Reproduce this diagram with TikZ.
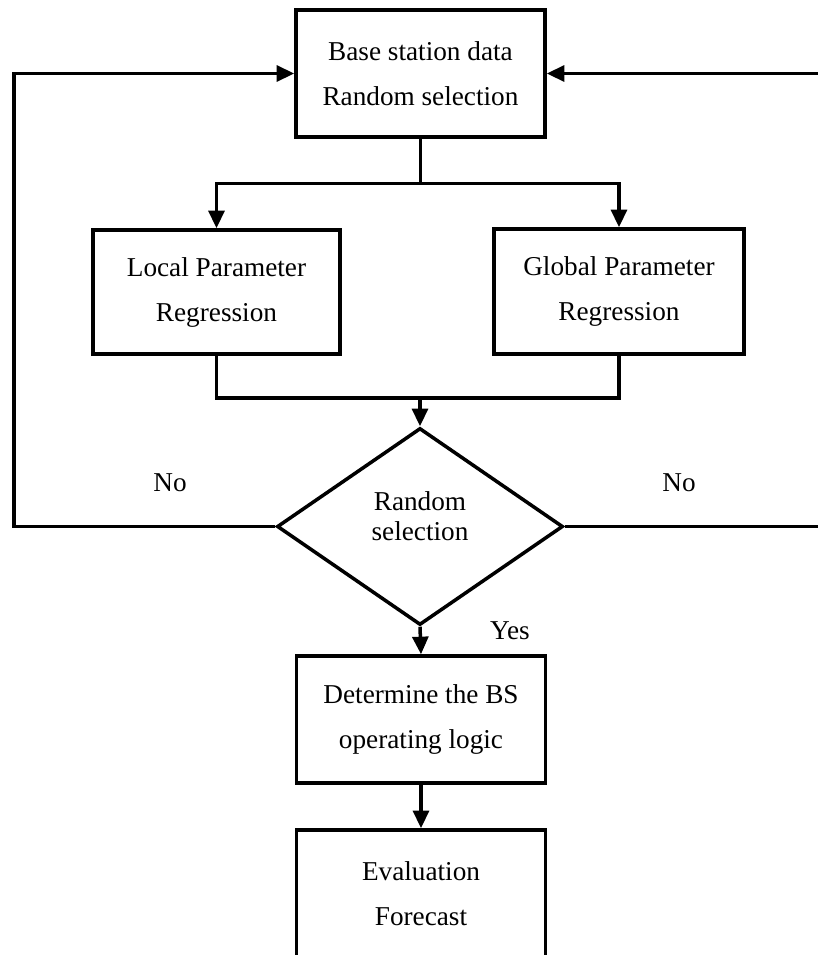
\documentclass[tikz,border=0pt]{standalone}
\usepackage{fontspec}
\setmainfont{Liberation Serif}
\usetikzlibrary{arrows.meta,shapes.geometric,positioning}

\begin{document}
\begin{tikzpicture}[
    block/.style={draw, line width=2pt, minimum width=4.98cm, minimum height=2.54cm, align=center, font=\fontsize{15.5}{25.6}\selectfont},
    decision/.style={draw, diamond, line width=2pt, minimum width=5.72cm, minimum height=3.94cm, inner sep=0pt, align=center, font=\fontsize{15.5}{17.6}\selectfont},
    lbl/.style={font=\fontsize{15.5}{18}\selectfont},
    arr/.style={-{Triangle[length=10pt, width=9pt]}, line width=2pt},
    wire/.style={line width=2pt}
]
\useasboundingbox (0,0) rectangle (16.36,-19.1);
\clip (0,0) rectangle (16.36,-19.1);

\node[block] (data) at (8.41,-1.47) {Base station data\\Random selection};
\node[block, minimum width=4.95cm, minimum height=2.48cm] (local) at (4.33,-5.84) {Local Parameter\\Regression};
\node[block, minimum width=5cm, minimum height=2.5cm] (global) at (12.38,-5.83) {Global Parameter\\Regression};
\node[decision] (sel) at (8.4,-10.53) {Random\\selection\\[-0.2cm]};
\node[block] (logic) at (8.42,-14.39) {Determine the BS\\operating logic};
\node[block] (eval) at (8.42,-17.87) {Evaluation\\Forecast};

% labels
\node[lbl] (noleft) at (3.4,-9.66) {No};
\node[lbl] (noright) at (13.58,-9.66) {No};
\node[lbl] (yes) at (10.2,-12.62) {Yes};

% split and merge
\coordinate (split) at (8.41,-3.67);
\coordinate (merge) at (8.4,-7.96);
\draw[wire] (data.south) -- (split);
\draw[arr] (split) -| (local.north);
\draw[arr] (split) -| (global.north);
\draw[wire] (local.south) |- (merge);
\draw[wire] (global.south) |- (merge);
\draw[arr] (merge) -- (sel.north);

% loops back
\coordinate (backleft) at (0.28,-10.53);
\coordinate (backright) at (16.8,-10.53);
\draw[arr] (sel.west) -- (backleft) |- (data.west);
\draw[arr] (sel.east) -- (backright) |- (data.east);

\draw[arr] (sel.south) -- (logic.north);
\draw[arr] (logic.south) -- (eval.north);
\end{tikzpicture}
\end{document}
